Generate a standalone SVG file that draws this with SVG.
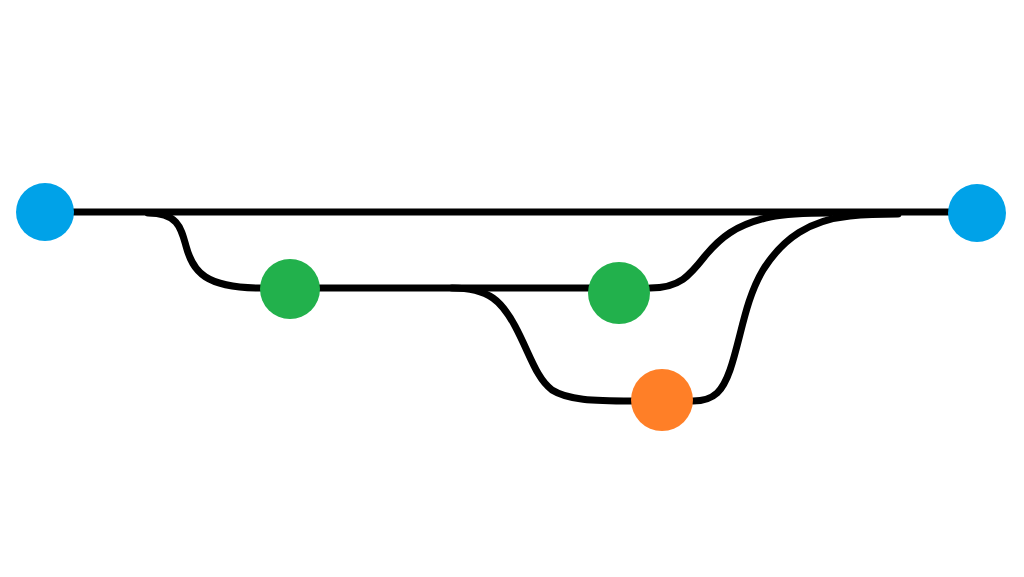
<svg xmlns="http://www.w3.org/2000/svg" width="1024" height="577" viewBox="0 0 1024 577">
<style>
.edge{fill:none;stroke:#000;stroke-width:7;stroke-linecap:round;stroke-linejoin:round}
.blue{fill:#00A2E8}
.green{fill:#22B14C}
.orange{fill:#FF7F27}
</style>
<rect width="1024" height="577" fill="#fff"/>
<g id="connectors">
<path class="edge" d="M70,212 L955,212"/>
<path class="edge" d="M148,213 C178,213 181,228 186,246 C193,272 205,288 262,288"/>
<path class="edge" d="M318,288 L592,288"/>
<path class="edge" d="M452,288 C490,288 502,302 515,326 C530,354 536,378 552,390 C568,400 592,401 632,401"/>
<path class="edge" d="M650,288 C680,288 690,275 705,256 C720,238 735,225 770,217 C790,213 810,213 830,213"/>
<path class="edge" d="M693,401 C715,401 723,390 730,370 C741,338 745,300 763,270 C783,238 810,220 850,216 C870,214 885,214 898,214"/>
</g>
<g id="node-start"><circle class="blue" cx="45" cy="212" r="29"/></g>
<g id="node-green1"><circle class="green" cx="290" cy="289" r="30"/></g>
<g id="node-green2"><circle class="green" cx="619" cy="293" r="31"/></g>
<g id="node-orange"><circle class="orange" cx="662" cy="400" r="31"/></g>
<g id="node-end"><circle class="blue" cx="977" cy="213" r="29"/></g>
</svg>
